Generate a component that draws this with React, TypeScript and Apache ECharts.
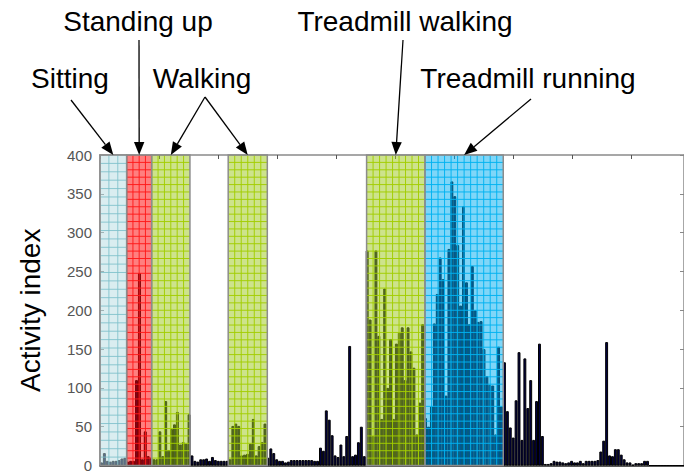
import React, { useEffect, useRef } from "react";
import * as echarts from "echarts";

// Activity index per time bin (200 bins)
const activity: number[] = [
  4, 16, 6, 5, 6, 6, 7, 9, 10,
  5, 6, 6, 110, 248, 8, 44, 12,
  10, 8, 8, 44, 12, 83, 20, 47, 53, 69, 27, 30, 28, 66,
  13, 6, 5, 8, 8, 9, 6, 11, 7, 6, 6, 6, 6,
  8, 51, 54, 51, 13, 14, 15, 28, 60, 13, 25, 30, 54,
  10, 22, 16, 8, 6, 6, 4, 5, 7, 7, 7, 7, 7, 7, 7, 7, 6, 6,
  23, 19, 71, 59, 39, 13, 11, 27, 12, 38, 154, 12, 14, 30, 50, 12,
  277, 188, 38, 277, 167, 60, 228, 100, 163, 60, 157, 171, 178, 110, 178, 147, 126, 40, 81, 182,
  61, 50, 76, 183, 221, 268, 240, 90, 279, 366, 347, 284, 206, 334, 236, 182, 257, 200, 185, 186, 150, 115, 104, 103, 40, 153, 76,
  133, 70, 49, 36, 84, 146, 33, 138, 74, 110, 33, 83, 157, 38,
  2, 2, 3, 6, 5, 5, 4, 3, 4, 6, 4, 4, 6, 3, 6, 6, 6, 6, 7, 18, 32, 159, 13, 12, 21, 21, 14, 8, 4, 4, 1, 3, 3, 3, 6, 6, 0,
  0, 0, 0, 0, 0, 0, 0, 0, 0, 0, 0,
];
const bins: string[] = activity.map((_, i) => String(i));

// Activity periods (in bin units)
const regionStart = [0, 9.14, 17.7, 43.9, 91.3, 111.3];
const regionEnd = [9.14, 17.7, 30.8, 57.3, 111.3, 138.1];
const regionKind = [0, 1, 2, 2, 2, 3]; // 0 sitting, 1 standing, 2 walking, 3 running

// Annotations: label text and the periods they point to
const noteTexts = ["Sitting", "Standing up", "Walking", "Treadmill walking", "Treadmill running"];
const noteTargets = [[0], [1], [2, 3], [4], [5]];

// Axis
const yMin = 0;
const yMax = 400;
const yStep = 50;
const yTitle = "Activity index";

// Layout (not data)
const noteTextPos = [
  [70, 78],
  [138, 21],
  [202, 78],
  [405, 21],
  [528, 78],
];
const noteArrowStart = [
  [71, 100],
  [139, 40],
  [205, 97],
  [403, 40],
  [531, 99],
];

const kindStyles = [
  { fill: "rgba(181,219,225,0.5)", line: "rgba(125,192,202,0.85)", cw: 8.4, ch: 8.4 },
  { fill: "rgba(255,0,0,0.5)", line: "rgba(255,25,25,0.95)", cw: 6.3, ch: 7.4 },
  { fill: "rgba(155,199,25,0.5)", line: "rgba(162,206,0,0.95)", cw: 6.3, ch: 7.4 },
  { fill: "rgba(0,173,241,0.5)", line: "rgba(0,178,240,0.95)", cw: 6.3, ch: 7.4 },
];

const FONT = '"Liberation Sans", Arial, Helvetica, sans-serif';

export default function App() {
  const ref = useRef<HTMLDivElement>(null);

  useEffect(() => {
    if (!ref.current) return;
    const chart = echarts.init(ref.current, null, { renderer: "svg" });

    const regionData = regionStart.map((s, i) => [s, regionEnd[i], regionKind[i]]);

    chart.setOption({
      animation: false,
      backgroundColor: "#ffffff",
      textStyle: { fontFamily: FONT },
      grid: { left: 100, top: 155, width: 584, height: 311, containLabel: false },
      xAxis: [
        {
          type: "category",
          data: bins,
          position: "bottom",
          boundaryGap: true,
          axisLine: { show: true, lineStyle: { color: "#222", width: 1.5 } },
          axisTick: { show: false },
          axisLabel: { show: false },
          splitLine: { show: false },
        },
        {
          type: "value",
          position: "top",
          min: 0,
          max: 9.9,
          interval: 1,
          axisLine: { show: true, onZero: false, lineStyle: { color: "#8a8a8a", width: 1.5 } },
          axisTick: { show: true, inside: true, length: 4, lineStyle: { color: "#555", width: 1 } },
          axisLabel: { show: false },
          splitLine: { show: false },
        },
        {
          type: "value",
          show: false,
          min: 0,
          max: activity.length,
        },
      ],
      yAxis: [
        {
          type: "value",
          position: "left",
          min: yMin,
          max: yMax,
          interval: yStep,
          name: yTitle,
          nameLocation: "middle",
          nameGap: 56,
          nameTextStyle: { fontSize: 28, color: "#000", fontFamily: FONT },
          axisLine: { show: true, onZero: false, lineStyle: { color: "#8a8a8a", width: 1.5 } },
          axisTick: { show: true, inside: true, length: 4, lineStyle: { color: "#888" } },
          axisLabel: { show: true, fontSize: 15, color: "#555", margin: 8, fontFamily: FONT },
          splitLine: { show: false },
        },
        {
          type: "value",
          position: "right",
          min: yMin,
          max: yMax,
          interval: yStep,
          axisLine: { show: true, onZero: false, lineStyle: { color: "#8a8a8a", width: 1.5 } },
          axisTick: { show: true, inside: true, length: 4, lineStyle: { color: "#888" } },
          axisLabel: { show: false },
          splitLine: { show: false },
        },
      ],
      series: [
        {
          type: "bar",
          xAxisIndex: 0,
          yAxisIndex: 0,
          data: activity,
          barWidth: "100%",
          barCategoryGap: "0%",
          itemStyle: { color: "#000044", borderColor: "#000", borderWidth: 1 },
          z: 2,
        },
        {
          type: "custom",
          xAxisIndex: 2,
          yAxisIndex: 0,
          data: regionData,
          encode: { x: [0, 1], y: 2 },
          clip: false,
          z: 3,
          renderItem: (params: any, api: any) => {
            const s = api.value(0);
            const e = api.value(1);
            const k = api.value(2);
            const tl = api.coord([s, yMax]);
            const br = api.coord([e, yMin]);
            const x0 = tl[0];
            const y0 = tl[1];
            const x1 = br[0];
            const y1 = br[1];
            const st = kindStyles[k];
            const children: any[] = [
              {
                type: "rect",
                shape: { x: x0, y: y0, width: x1 - x0, height: y1 - y0 },
                style: { fill: st.fill },
              },
            ];
            const ncol = Math.max(1, Math.round((x1 - x0) / st.cw));
            for (let c = 1; c < ncol; c++) {
              const x = x0 + ((x1 - x0) * c) / ncol;
              children.push({
                type: "line",
                shape: { x1: x, y1: y0, x2: x, y2: y1 },
                style: { stroke: st.line, lineWidth: 1 },
              });
            }
            const nrow = Math.max(1, Math.round((y1 - y0) / st.ch));
            for (let r = 1; r < nrow; r++) {
              const y = y0 + ((y1 - y0) * r) / nrow;
              children.push({
                type: "line",
                shape: { x1: x0, y1: y, x2: x1, y2: y },
                style: { stroke: st.line, lineWidth: 1 },
              });
            }
            children.push({
              type: "rect",
              shape: { x: x0, y: y0, width: x1 - x0, height: y1 - y0 },
              style: { fill: "none", stroke: "#8c8c8c", lineWidth: 1.5 },
            });
            return { type: "group", children };
          },
        },
      ],
    });

    // Annotation arrows pointing to the centre top of each period
    const topY = chart.convertToPixel({ yAxisIndex: 0 }, yMax) as number;
    const elements: any[] = [];
    noteTexts.forEach((t, i) => {
      elements.push({
        type: "text",
        x: noteTextPos[i][0],
        y: noteTextPos[i][1],
        z: 100,
        style: {
          text: t,
          fontSize: 28,
          fontFamily: FONT,
          fill: "#000",
          align: "center",
          verticalAlign: "middle",
        },
      });
      noteTargets[i].forEach((ri) => {
        const cx = chart.convertToPixel({ xAxisIndex: 2 }, (regionStart[ri] + regionEnd[ri]) / 2) as number;
        const sx = noteArrowStart[i][0];
        const sy = noteArrowStart[i][1];
        const dx = cx - sx;
        const dy = topY - sy;
        const len = Math.sqrt(dx * dx + dy * dy);
        const ux = dx / len;
        const uy = dy / len;
        const L = 13;
        const W = 5.2;
        const bx = cx - ux * L;
        const by = topY - uy * L;
        elements.push({
          type: "line",
          z: 100,
          shape: { x1: sx, y1: sy, x2: bx, y2: by },
          style: { stroke: "#000", lineWidth: 1.3 },
        });
        elements.push({
          type: "polygon",
          z: 100,
          shape: {
            points: [
              [cx, topY],
              [bx - uy * W, by + ux * W],
              [bx + uy * W, by - ux * W],
            ],
          },
          style: { fill: "#000" },
        });
      });
    });
    chart.setOption({ graphic: elements });

    return () => chart.dispose();
  }, []);

  return (
    <div
      ref={ref}
      style={{ position: "fixed", left: 0, top: 0, width: 684, height: 473, background: "#fff" }}
    />
  );
}
